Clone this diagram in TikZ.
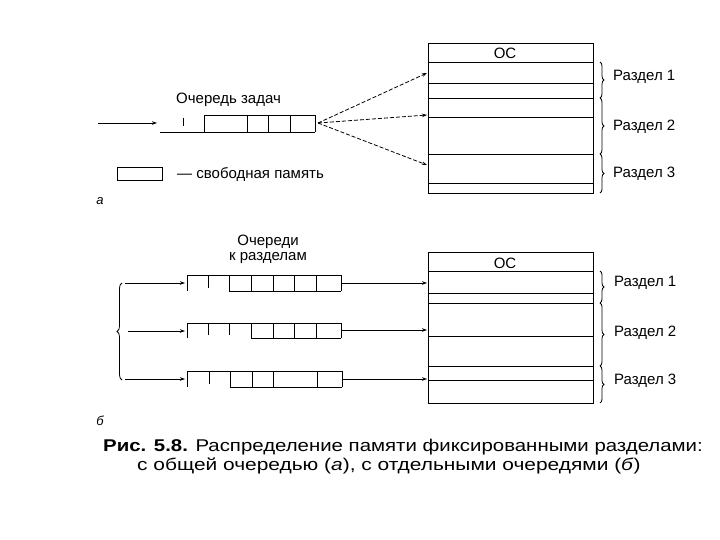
\documentclass[tikz,border=0pt]{standalone}
\usepackage{fontspec}
\setmainfont{Liberation Sans}
\usetikzlibrary{arrows.meta,decorations.pathreplacing}
\begin{document}
\begin{tikzpicture}[x=1pt,y=-1pt,
  ln/.style={line width=0.9pt},
  tick/.style={line width=0.7pt},
  arr/.style={line width=0.8pt,-{Stealth[length=5pt,width=3.5pt]}},
  darr/.style={arr,dash pattern=on 4pt off 2pt},
  lbl/.style={font=\fontsize{15}{13}\selectfont,inner sep=0pt},
  captext/.style={font=\fontsize{17}{17}\selectfont,inner sep=0pt,anchor=west},
  brc/.style={decorate,decoration={brace,amplitude=4pt},line width=0.8pt},
]
\useasboundingbox (0,0) rectangle (720,540);

% ================= (a) =================
% memory
\draw[ln] (428,43) rectangle (593,193);
\node[lbl] (osA) at (505,53) {ОС};
\foreach \yy in {62,83,98,117,154,183} \draw[ln] (428,\yy) -- (593,\yy);

% common queue
\draw[ln] (160,132) -- (315,132);
\draw[ln] (204,115) -- (315,115);
\foreach \xx in {204,247,268,290,315} \draw[ln] (\xx,115) -- (\xx,132);
\draw[tick] (183,118) -- (183,126);
\node[lbl,anchor=west] (qlabA) at (176,100) {Очередь задач};

\coordinate (inA0) at (98,123);
\coordinate (inA1) at (157,123);
\draw[arr] (inA0) -- (inA1);

\coordinate (qA) at (318,123);
\coordinate (mA1) at (427,73);
\coordinate (mA2) at (427,115);
\coordinate (mA3) at (427,165);
\draw[darr] (qA) -- (mA1);
\draw[darr] (qA) -- (mA2);
\draw[darr] (qA) -- (mA3);

% partitions
\draw[brc] (600,62) -- (600,98);
\draw[brc] (600,98) -- (600,154);
\draw[brc] (600,154) -- (600,193);
\node[lbl,anchor=west] (pA1) at (613,77) {Раздел 1};
\node[lbl,anchor=west] (pA2) at (613,127) {Раздел 2};
\node[lbl,anchor=west] (pA3) at (613,174) {Раздел 3};

% legend
\draw[ln] (117,167) rectangle (162,180);
\node[lbl,anchor=west] (legA) at (177,174) {— свободная память};
\node[lbl,font=\fontsize{13}{13}\selectfont\itshape] (la) at (100,201) {а};

% ================= (б) =================
\draw[ln] (428,252) rectangle (593,403);
\node[lbl] (osB) at (505,263) {ОС};
\foreach \yy in {271,293,303,336,366,380} \draw[ln] (428,\yy) -- (593,\yy);

\node[lbl,font=\fontsize{15}{15}\selectfont,align=center] (qlabB) at (268,249) {Очереди\\к разделам};

% queue 1
\draw[ln] (187,275) -- (341,275);
\draw[ln] (229,291) -- (341,291);
\draw[tick] (187,275) -- (187,291);
\foreach \xx in {229,251,273,294,316,341} \draw[ln] (\xx,275) -- (\xx,291);
\draw[tick] (208,275) -- (208,288);
% queue 2
\draw[ln] (187,323) -- (341,323);
\draw[ln] (251,338) -- (341,338);
\draw[tick] (187,323) -- (187,338);
\foreach \xx in {251,273,294,316,341} \draw[ln] (\xx,323) -- (\xx,338);
\draw[tick] (208,323) -- (208,335);
\draw[tick] (229,323) -- (229,335);
% queue 3
\draw[ln] (187,371) -- (342,371);
\draw[ln] (230,387) -- (342,387);
\draw[tick] (187,371) -- (187,387);
\foreach \xx in {230,252,273,317,342} \draw[ln] (\xx,371) -- (\xx,387);
\draw[tick] (209,371) -- (209,384);

% input brace and arrows
\draw[brc,decoration={brace,amplitude=5pt}] (122,380) -- (122,283);
\coordinate (bB1) at (125,283);
\coordinate (bB2) at (128,331);
\coordinate (bB3) at (125,379);
\coordinate (qB1) at (185,283);
\coordinate (qB2) at (185,331);
\coordinate (qB3) at (185,379);
\draw[arr] (bB1) -- (qB1);
\draw[arr] (bB2) -- (qB2);
\draw[arr] (bB3) -- (qB3);

% queues to memory
\coordinate (oB1) at (342,283);
\coordinate (oB2) at (342,330);
\coordinate (oB3) at (343,379);
\coordinate (mB1) at (427,283);
\coordinate (mB2) at (427,330);
\coordinate (mB3) at (427,379);
\draw[arr] (oB1) -- (mB1);
\draw[arr] (oB2) -- (mB2);
\draw[arr] (oB3) -- (mB3);

% partitions
\draw[brc] (600,271) -- (600,303);
\draw[brc] (600,303) -- (600,366);
\draw[brc] (600,366) -- (600,403);
\node[lbl,anchor=west] (pB1) at (614,283) {Раздел 1};
\node[lbl,anchor=west] (pB2) at (614,333) {Раздел 2};
\node[lbl,anchor=west] (pB3) at (614,381) {Раздел 3};

\node[lbl,font=\fontsize{13}{13}\selectfont\itshape] (lb) at (100,421) {б};

% ================= caption =================
\node[captext] (cap1) at (103,447) {\scalebox{1.2}[1]{\textbf{Рис. 5.8.} Распределение памяти фиксированными разделами:}};
\node[captext] (cap2) at (137,466) {\scalebox{1.23}[1]{с общей очередью (\textit{а}), с отдельными очередями (\textit{б})}};
\end{tikzpicture}
\end{document}
